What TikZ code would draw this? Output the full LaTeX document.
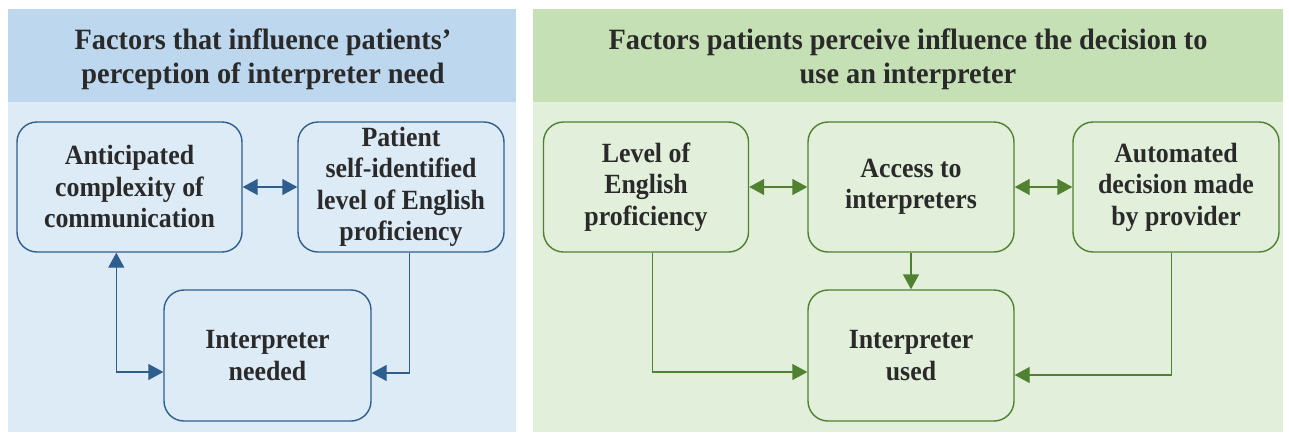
\documentclass[tikz,border=0pt]{standalone}
\usepackage{fontspec}
\setmainfont{Liberation Serif}
\newfontfamily\boxfont[FakeStretch=0.93]{Liberation Serif}
\newfontfamily\headfont[FakeStretch=0.96]{Liberation Serif}
\usetikzlibrary{arrows.meta}
\definecolor{bhead}{HTML}{BDD7EE}
\definecolor{bbody}{HTML}{DDEBF7}
\definecolor{bline}{HTML}{2E5E8E}
\definecolor{ghead}{HTML}{C5E0B4}
\definecolor{gbody}{HTML}{E2EFDA}
\definecolor{gline}{HTML}{4F8130}
\definecolor{txt}{HTML}{2A2A2A}
\tikzset{
  panelhead/.style={font=\headfont\fontsize{29.5}{33.5}\selectfont\bfseries, text=txt, align=center},
  boxbase/.style={rounded corners=20pt, line width=1.4pt, align=center, text=txt,
    font=\boxfont\fontsize{27.8}{31.5}\selectfont\bfseries, inner sep=0pt},
  bluebox/.style={boxbase, draw=bline, fill=bbody},
  greenbox/.style={boxbase, draw=gline, fill=gbody},
  barr/.style={draw=bline, line width=1.4pt, -{Triangle[length=15pt,width=16pt]}},
  bdarr/.style={draw=bline, line width=1.4pt, {Triangle[length=15pt,width=16pt]}-{Triangle[length=15pt,width=16pt]}},
  garr/.style={draw=gline, line width=1.4pt, -{Triangle[length=15pt,width=16pt]}},
  gdarr/.style={draw=gline, line width=1.4pt, {Triangle[length=15pt,width=16pt]}-{Triangle[length=15pt,width=16pt]}},
}
\begin{document}
\begin{tikzpicture}[x=1pt,y=-1pt]
\useasboundingbox (0,0) rectangle (1289,432);
% panels
\fill[bhead] (8,9) rectangle (516,102);
\fill[bbody] (8,102) rectangle (516,432);
\fill[ghead] (533,9) rectangle (1283,102);
\fill[gbody] (533,102) rectangle (1283,432);
\node[panelhead] (lh) at (263,59) {Factors that influence patients’\\perception of interpreter need};
\node[panelhead] (rh) at (908,59) {Factors patients perceive influence the decision to\\use an interpreter};
% left boxes
\node[bluebox, minimum width=225pt, minimum height=130pt] (ant) at (129.5,187) {Anticipated\\complexity of\\communication};
\node[bluebox, minimum width=206pt, minimum height=130pt] (pat) at (401,187) {Patient\\self-identified\\level of English\\proficiency};
\node[bluebox, minimum width=207pt, minimum height=131pt] (need) at (267.5,355.5) {Interpreter\\needed};
% right boxes
\node[greenbox, minimum width=205pt, minimum height=130pt] (lev) at (646,187) {Level of\\English\\proficiency};
\node[greenbox, minimum width=206pt, minimum height=130pt] (acc) at (911,187) {Access to\\interpreters};
\node[greenbox, minimum width=206pt, minimum height=130pt] (aut) at (1176,187) {Automated\\decision made\\by provider};
\node[greenbox, minimum width=206pt, minimum height=131pt] (used) at (911,355.5) {Interpreter\\used};
% left arrows
\draw[bdarr] (ant.east) -- (pat.west);
\draw[bdarr] ([xshift=100pt]ant.south west) |- ([yshift=-16.5pt]need.west);
\draw[barr] ([xshift=112pt]pat.south west) |- ([yshift=-17.5pt]need.east);
% right arrows
\draw[gdarr] (lev.east) -- (acc.west);
\draw[gdarr] (acc.east) -- (aut.west);
\draw[garr] (acc.south) -- (used.north);
\draw[garr] ([xshift=109.5pt]lev.south west) |- ([yshift=-16.5pt]used.west);
\draw[garr] ([xshift=99pt]aut.south west) |- ([yshift=-19.5pt]used.east);
\end{tikzpicture}
\end{document}
